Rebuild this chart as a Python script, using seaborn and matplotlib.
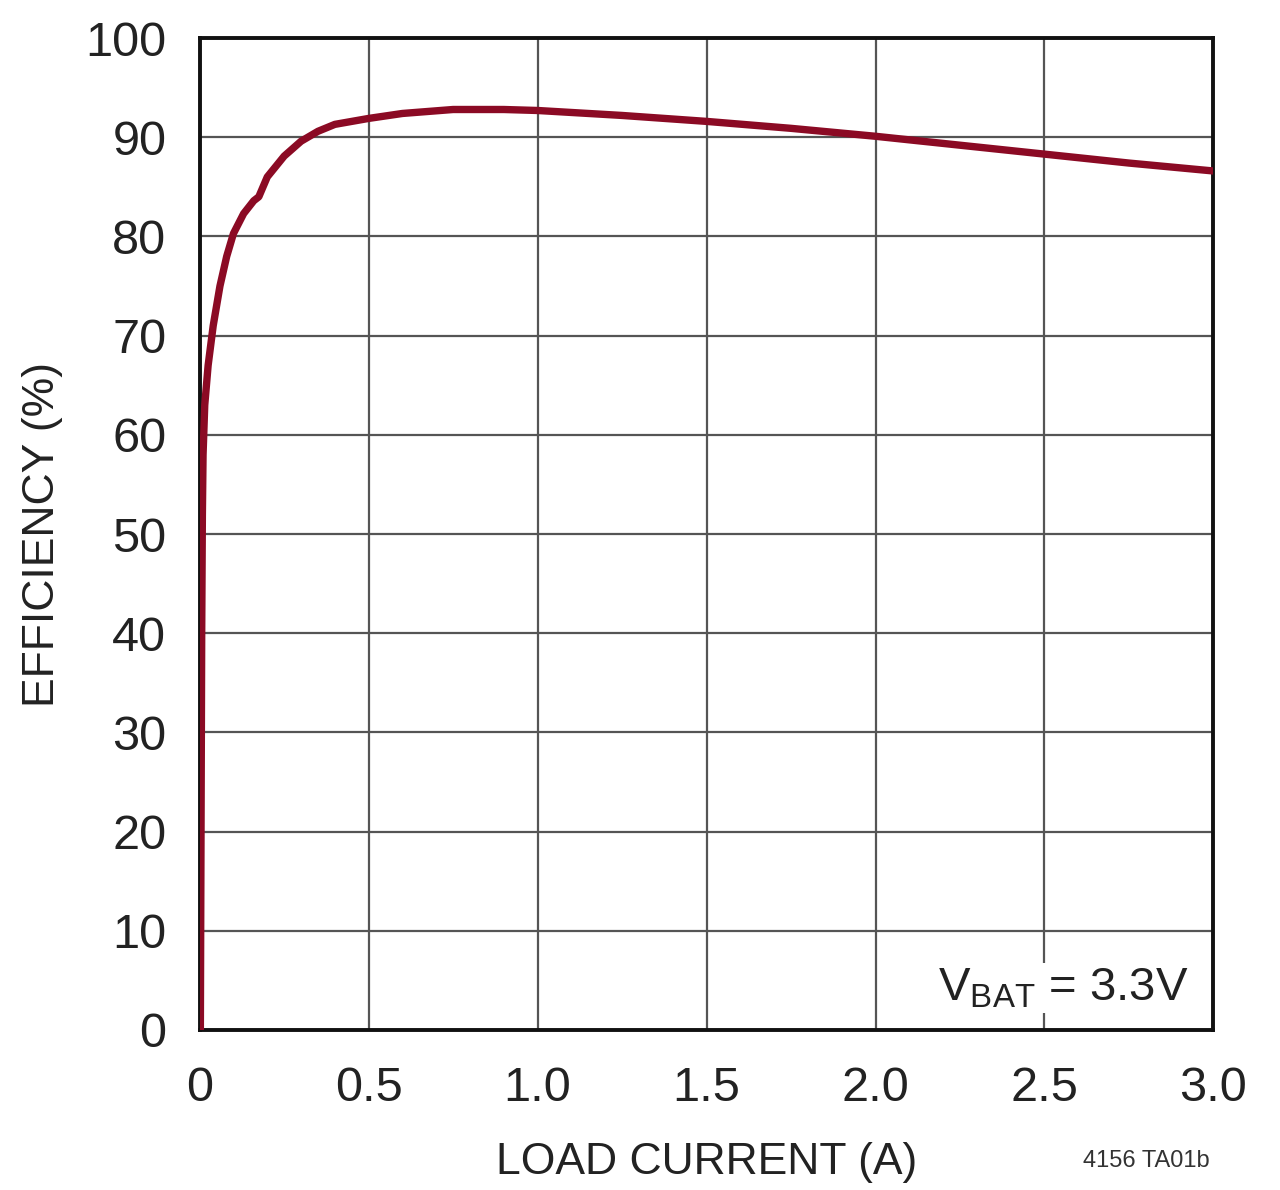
import matplotlib
matplotlib.use("Agg")
import matplotlib.pyplot as plt
import pandas as pd
import numpy as np
import seaborn as sns

# load current (A) and efficiency (%)
load_current = [0.002, 0.004, 0.006, 0.008, 0.010, 0.015, 0.025, 0.040, 0.060, 0.080,
                0.100, 0.130, 0.160, 0.175, 0.190, 0.200, 0.250, 0.300, 0.350, 0.400,
                0.500, 0.600, 0.750, 0.900, 1.000, 1.250, 1.500, 1.750, 2.000, 2.250,
                2.500, 2.750, 3.000]
efficiency = [0.0, 20.0, 40.0, 52.0, 58.0, 63.0, 67.0, 71.0, 75.0, 78.0,
              80.3, 82.3, 83.6, 84.0, 85.2, 86.0, 88.1, 89.6, 90.6, 91.3,
              91.9, 92.4, 92.8, 92.8, 92.7, 92.2, 91.6, 90.9, 90.1, 89.2,
              88.3, 87.4, 86.6]
x_ticks = [0, 0.5, 1.0, 1.5, 2.0, 2.5, 3.0]
x_labels = ["0", "0.5", "1.0", "1.5", "2.0", "2.5", "3.0"]
y_ticks = list(range(0, 101, 10))

df = pd.DataFrame({"current": load_current, "eff": efficiency})

sns.set_style("white")
plt.rcParams["font.family"] = ["Liberation Sans Narrow", "Liberation Sans", "DejaVu Sans"]

fig = plt.figure(figsize=(12.8, 11.9), dpi=100)
ax = fig.add_axes([0.156, 0.1345, 0.792, 0.8335])

sns.lineplot(data=df, x="current", y="eff", ax=ax, color="#8b0a24", linewidth=5.3,
             sort=False, zorder=5)
ax.lines[0].set_solid_joinstyle("round")
ax.lines[0].set_solid_capstyle("round")

ax.set_xlim(0, 3.0)
ax.set_ylim(0, 100)
ax.set_xticks(x_ticks)
ax.set_xticklabels(x_labels)
ax.set_yticks(y_ticks)
ax.grid(True, color="#555555", linewidth=1.6)
ax.set_axisbelow(True)
for s in ax.spines.values():
    s.set_color("#111111")
    s.set_linewidth(2.8)
ax.tick_params(length=0, labelsize=35, colors="#222222")
ax.tick_params(axis="x", pad=26)
ax.tick_params(axis="y", pad=24)

ax.set_xlabel("LOAD CURRENT (A)", fontsize=32, color="#222222", labelpad=22)
ax.set_ylabel("EFFICIENCY (%)", fontsize=32, color="#222222", labelpad=16)

ax.text(0.975, 0.03, r"V$_{\mathregular{BAT}}$ = 3.3V", transform=ax.transAxes,
        ha="right", va="baseline", fontsize=34, color="#222222",
        bbox=dict(facecolor="white", edgecolor="none", pad=2), zorder=6)
fig.text(0.945, 0.015, "4156 TA01b", ha="right", va="bottom", fontsize=17,
         color="#333333")

fig.savefig("out.png", dpi=100)
